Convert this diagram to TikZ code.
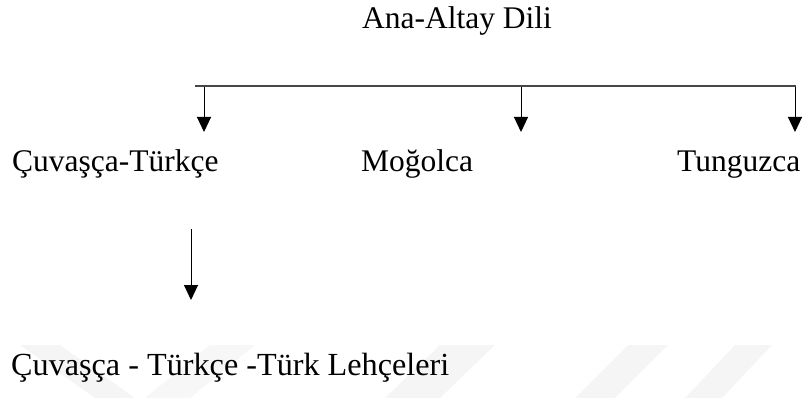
\documentclass[tikz,border=0pt]{standalone}
\usepackage{fontspec}
\setmainfont{Liberation Serif}
\usetikzlibrary{arrows.meta}
\begin{document}
\begin{tikzpicture}[x=1pt,y=-1pt,
  lbl/.style={inner sep=0pt,anchor=base west,font=\fontsize{31.5}{36}\selectfont},
  bus/.style={draw=black!72,line width=1.8pt},
  branch/.style={draw=black,line width=1pt,-{Triangle[width=14pt,length=15pt]}}]
  \useasboundingbox (0,0) rectangle (803,398);
  % faint background marks
  \fill[black!4] (20,345) -- (60,345) -- (135,398) -- (95,398) -- cycle;
  \fill[black!3] (210,345) -- (255,345) -- (190,398) -- (145,398) -- cycle;
  \fill[black!4] (440,345) -- (495,345) -- (440,398) -- (385,398) -- cycle;
  \fill[black!4] (628,345) -- (668,345) -- (615,398) -- (575,398) -- cycle;
  \fill[black!4] (735,345) -- (772,345) -- (722,398) -- (685,398) -- cycle;
  % labels
  \node[lbl,anchor=base] (root) at (457,29) {Ana-Altay Dili};
  \node[lbl] (cuv) at (12,172) {Çuvaşça-Türkçe};
  \node[lbl] (mog) at (361,172) {Moğolca};
  \node[lbl] (tun) at (677,172) {Tunguzca};
  \node[lbl,font=\fontsize{32.2}{36}\selectfont] (ctl) at (11,375) {Çuvaşça - Türkçe -Türk Lehçeleri};
  % bus and branches
  \coordinate (busL) at (195,85.7);
  \coordinate (busR) at (795.5,85.7);
  \coordinate (b1) at (204,85.7);
  \coordinate (b2) at (521,85.7);
  \coordinate (b3) at (795,85.7);
  \coordinate (t1) at (204,132);
  \coordinate (t2) at (521,132);
  \coordinate (t3) at (795,132);
  \coordinate (s4) at (191,229);
  \coordinate (t4) at (191,300);
  \draw[branch] (b1) -- (t1);
  \draw[branch] (b2) -- (t2);
  \draw[branch] (b3) -- (t3);
  \draw[bus] (busL) -- (busR);
  \draw[branch] (s4) -- (t4);
\end{tikzpicture}
\end{document}
